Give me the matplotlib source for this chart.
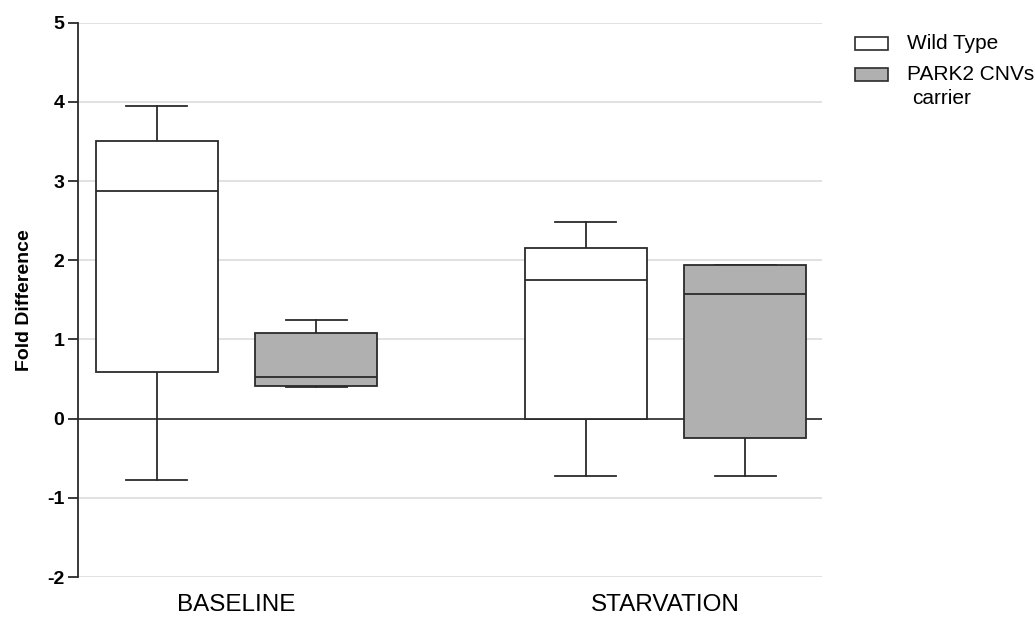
import numpy as np
import matplotlib.pyplot as plt
from matplotlib.patches import Rectangle

plt.rcParams['font.family'] = ['Liberation Sans', 'DejaVu Sans']
plt.rcParams['axes.unicode_minus'] = False

# box statistics per group (fold difference)
groups = ['BASELINE', 'STARVATION']
series = ['Wild Type', 'PARK2 CNVs']
whislo = [-0.77, 0.40, -0.72, -0.73]
q1 = [0.59, 0.41, 0.00, -0.25]
med = [2.88, 0.53, 1.75, 1.58]
q3 = [3.50, 1.08, 2.15, 1.94]
whishi = [3.95, 1.25, 2.48, 1.94]

positions = [1.0, 2.0, 3.69, 4.69]
colors = ['white', '#b0b0b0']
fills = colors * 2
edge = '#2b2b2b'

stats = []
for i in range(len(med)):
    stats.append(dict(whislo=whislo[i], q1=q1[i], med=med[i], q3=q3[i],
                      whishi=whishi[i], fliers=[]))

fig = plt.figure(figsize=(10.35, 6.18), dpi=100)
ax = fig.add_axes([0.0754, 0.0663, 0.7186, 0.8970])

ax.set_ylim(-2, 5)
ax.set_xlim(0.505, 5.17)
ax.set_yticks(np.arange(-2, 6, 1))
ax.yaxis.grid(True, color='#dcdcdc', linewidth=1.2)
ax.set_axisbelow(True)
ax.axhline(0, color=edge, linewidth=1.2, zorder=1)

bp = ax.bxp(stats, positions=positions, widths=0.765, capwidths=0.383,
            patch_artist=True, showfliers=False,
            boxprops=dict(edgecolor=edge, linewidth=1.3),
            medianprops=dict(color=edge, linewidth=1.3, zorder=4),
            whiskerprops=dict(color=edge, linewidth=1.3),
            capprops=dict(color=edge, linewidth=1.3))
for box, c in zip(bp['boxes'], fills):
    box.set_facecolor(c)
    box.set_zorder(3)

for s in ['top', 'right', 'bottom']:
    ax.spines[s].set_visible(False)
ax.spines['left'].set_linewidth(1.3)
ax.spines['left'].set_color(edge)

ax.set_xticks([(positions[0] + positions[1]) / 2, (positions[2] + positions[3]) / 2])
ax.set_xticklabels(groups, fontsize=17.5)
ax.tick_params(axis='x', length=0, pad=12)
ax.tick_params(axis='y', length=7, width=1.3, color=edge, labelsize=14, pad=3)
for lab in ax.get_yticklabels():
    lab.set_fontweight('bold')

ax.set_ylabel('Fold Difference', fontsize=14, fontweight='bold', labelpad=10)

# legend: swatch + label, second entry wraps onto a second line
leg_y = [0.929, 0.879]
for y, c, name in zip(leg_y, colors, series):
    fig.add_artist(Rectangle((0.826, y - 0.0105), 0.032, 0.021,
                             transform=fig.transFigure, facecolor=c,
                             edgecolor=edge, linewidth=1.2))
    fig.text(0.876, y, name, fontsize=15, va='center', ha='left')
fig.text(0.881, leg_y[1] - 0.038, 'carrier', fontsize=15, va='center', ha='left')

fig.savefig('out.png', dpi=100)
